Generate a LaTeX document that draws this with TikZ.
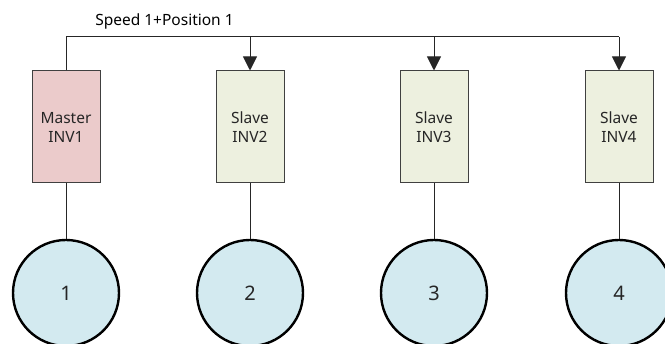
\documentclass[tikz,border=0pt]{standalone}
\usepackage{fontspec}
\setmainfont{Noto Sans}
\usetikzlibrary{arrows.meta}

\definecolor{masterfill}{HTML}{EBCBCB}
\definecolor{slavefill}{HTML}{EDF0DF}
\definecolor{motorfill}{HTML}{D3EAF0}
\definecolor{edgegray}{HTML}{404040}

\begin{document}
\begin{tikzpicture}[
  x=1pt, y=1pt,
  font=\fontsize{15.5}{19}\selectfont,
  inv/.style={rectangle, draw=edgegray, line width=1pt, minimum width=68pt,
    minimum height=112pt, inner sep=0pt, align=center, text=black!85},
  motor/.style={circle, draw=black, line width=2.4pt, fill=motorfill,
    minimum size=106pt, inner sep=0pt, text=black!85,
    font=\fontsize{20}{24}\selectfont},
  wire/.style={draw=black!85, line width=1pt},
  feed/.style={wire, -{Triangle[length=14pt, width=14pt]}}
]
\useasboundingbox (0,0) rectangle (665,344);

% drives
\node[inv, fill=masterfill] (master) at (66,217) {Master\\INV1};
\node[inv, fill=slavefill] (slave2) at (250,217) {Slave\\INV2};
\node[inv, fill=slavefill] (slave3) at (434,217) {Slave\\INV3};
\node[inv, fill=slavefill] (slave4) at (619,217) {Slave\\INV4};

% motors
\node[motor] (motor1) at (66,51) {1};
\node[motor] (motor2) at (250,51) {2};
\node[motor] (motor3) at (434,51) {3};
\node[motor] (motor4) at (619,51) {4};

% bus
\coordinate (bus1) at (66,307);
\coordinate (bus4) at (619,307);
\node[anchor=base, inner sep=0pt] (buslabel) at (164.5,318) {Speed 1+Position 1};
\draw[wire] (master.north) -- (bus1) -- (bus4);
\draw[feed] (slave2.north |- bus1) -- (slave2.north);
\draw[feed] (slave3.north |- bus1) -- (slave3.north);
\draw[feed] (bus4) -- (slave4.north);

% drive to motor
\draw[wire] (master.south) -- (motor1.north);
\draw[wire] (slave2.south) -- (motor2.north);
\draw[wire] (slave3.south) -- (motor3.north);
\draw[wire] (slave4.south) -- (motor4.north);
\end{tikzpicture}
\end{document}
